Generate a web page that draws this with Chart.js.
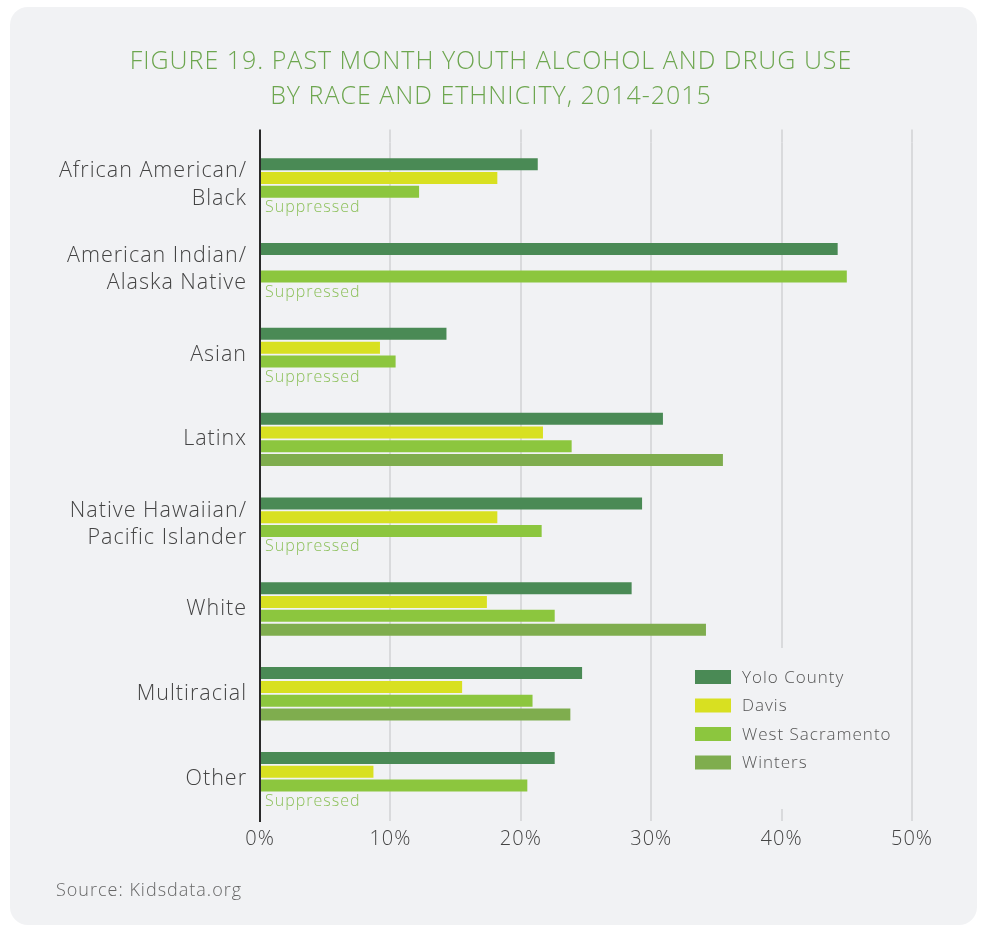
<!DOCTYPE html>
<html>
<head>
<meta charset="utf-8">
<script src="https://cdn.jsdelivr.net/npm/chart.js@4.4.1/dist/chart.umd.min.js"></script>
<style>
    html, body { margin: 0; padding: 0; background: #ffffff; }
    #card {
        position: absolute; left: 10px; top: 7px; width: 967px; height: 918px;
        background: #f1f2f4; border-radius: 18px;
    }
    #chart { position: absolute; left: 0; top: 0; }
    .txt {
        position: absolute; letter-spacing: 1px; font-weight: 300;
        font-family: "Open Sans", sans-serif;
    }
    #title {
        left: 0; width: 982px; top: 42px; text-align: center;
        font-size: 25px; line-height: 35px; color: #6da64f;
    }
    #source { left: 56px; top: 877px; font-size: 18px; color: #666; }
</style>
</head>
<body>
<div id="card"></div>
<canvas id="chart" width="982" height="927"></canvas>
<div id="title" class="txt">FIGURE 19. PAST MONTH YOUTH ALCOHOL AND DRUG USE<br>BY RACE AND ETHNICITY, 2014-2015</div>
<div id="source" class="txt">Source: Kidsdata.org</div>
<script>
const categories = [
    ["African American/", "Black"],
    ["American Indian/", "Alaska Native"],
    "Asian",
    "Latinx",
    ["Native Hawaiian/", "Pacific Islander"],
    "White",
    "Multiracial",
    "Other",
];
const seriesNames = ["Yolo County", "Davis", "West Sacramento", "Winters"];
const yoloCounty = [21.3, 44.3, 14.3, 30.9, 29.3, 28.5, 24.7, 22.6];
const davis = [18.2, null, 9.2, 21.7, 18.2, 17.4, 15.5, 8.7];
const westSacramento = [12.2, 45.0, 10.4, 23.9, 21.6, 22.6, 20.9, 20.5];
// null = value suppressed in the source
const winters = [null, null, null, 35.5, null, 34.2, 23.8, null];
const xTicks = [0, 10, 20, 30, 40, 50];

const colors = ["#4a8a55", "#d8e021", "#8cc63e", "#7fad4e"];
const FONT = "'Open Sans', sans-serif";
const GRID = "#d9dadc";

const datasets = [yoloCounty, davis, westSacramento, winters].map((values, i) => ({
    label: seriesNames[i],
    data: values,
    backgroundColor: colors[i],
    barPercentage: 0.87,
    categoryPercentage: 0.65,
}));

// wider text, lines run a bit above the plot, legend sits on a plain box
const decorPlugin = {
    id: "decor",
    beforeLayout(chart) {
        chart.ctx.letterSpacing = "1px";
    },
    beforeDraw(chart) {
        chart.ctx.letterSpacing = "1px";
    },
    beforeDatasetsDraw(chart) {
        const { ctx, chartArea } = chart;
        const xs = chart.scales.x;
        ctx.save();
        ctx.lineWidth = 2;
        ctx.strokeStyle = GRID;
        xTicks.slice(1).forEach((v) => {
            const x = Math.round(xs.getPixelForValue(v));
            ctx.beginPath();
            ctx.moveTo(x, chartArea.top - 13);
            ctx.lineTo(x, chartArea.top);
            ctx.stroke();
        });
        ctx.strokeStyle = "#2a2a2a";
        ctx.beginPath();
        ctx.moveTo(chartArea.left, chartArea.top - 13);
        ctx.lineTo(chartArea.left, chartArea.top);
        ctx.stroke();

        // legend
        ctx.fillStyle = "#f1f2f4";
        ctx.fillRect(700, 648, 205, 161);
        chart.data.datasets.forEach((ds, i) => {
            const y = 677 + i * 28.5;
            ctx.fillStyle = ds.backgroundColor;
            ctx.fillRect(695, y - 7, 36, 14);
            ctx.fillStyle = "#555";
            ctx.font = "300 17px " + FONT;
            ctx.textBaseline = "middle";
            ctx.textAlign = "left";
            ctx.fillText(ds.label, 742, y + 1);
        });
        ctx.restore();
    },
    afterDatasetsDraw(chart) {
        const { ctx } = chart;
        const meta = chart.getDatasetMeta(3);
        ctx.save();
        ctx.fillStyle = "#8cc05a";
        ctx.font = "300 16px " + FONT;
        ctx.textBaseline = "middle";
        ctx.textAlign = "left";
        winters.forEach((v, i) => {
            if (v === null) {
                const el = meta.data[i];
                ctx.fillText("Suppressed", chart.chartArea.left + 5, el.y + 2);
            }
        });
        ctx.restore();
    },
};

new Chart(document.getElementById("chart"), {
    type: "bar",
    data: { labels: categories, datasets: datasets },
    plugins: [decorPlugin],
    options: {
        indexAxis: "y",
        responsive: false,
        animation: false,
        layout: { padding: { left: 0, right: 70, top: 142.5, bottom: 66 } },
        scales: {
            x: {
                min: 0,
                max: 50,
                afterFit: (scale) => { scale.height = 40; },
                afterBuildTicks: (scale) => { scale.ticks = xTicks.map((v) => ({ value: v })); },
                grid: { color: GRID, lineWidth: 2, drawTicks: false },
                border: { display: false },
                ticks: {
                    padding: 6,
                    color: "#444",
                    font: { family: FONT, size: 20, weight: "300" },
                    callback: (v) => v + "%",
                },
            },
            y: {
                afterFit: (scale) => { scale.width = 260; },
                grid: { display: false },
                border: { display: true, color: "#2a2a2a", width: 2 },
                ticks: {
                    padding: 5,
                    color: "#444",
                    font: { family: FONT, size: 21.5, weight: "300", lineHeight: 1.27 },
                },
            },
        },
        plugins: {
            legend: { display: false },
            tooltip: { enabled: false },
            title: { display: false },
        },
    },
});
</script>
</body>
</html>
